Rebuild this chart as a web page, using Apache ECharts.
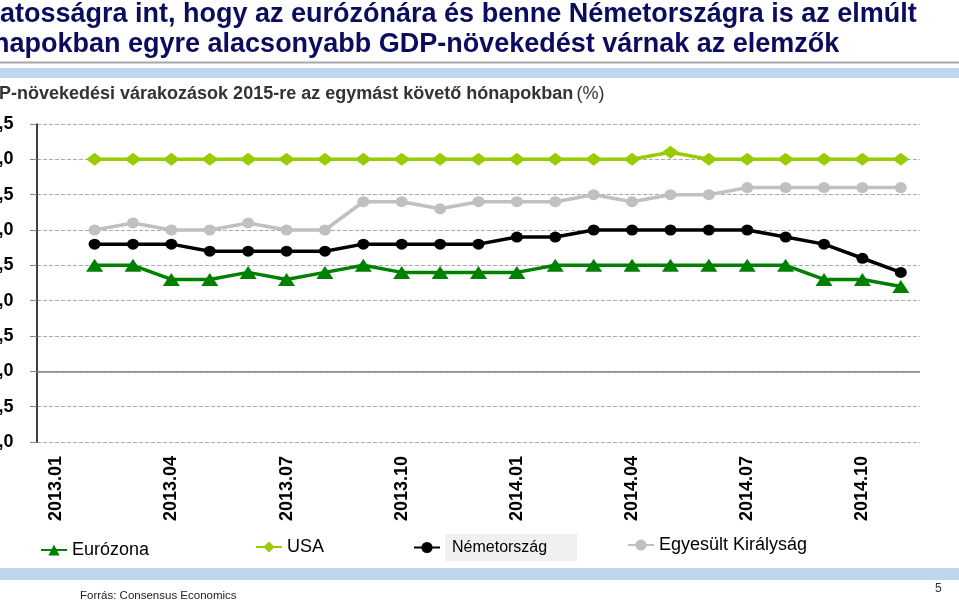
<!DOCTYPE html>
<html><head><meta charset="utf-8">
<script src="https://cdn.jsdelivr.net/npm/echarts@6/dist/echarts.min.js"></script>
<style>html,body{margin:0;padding:0;overflow:hidden;background:#fff;width:959px;height:602px;position:relative}
#c{position:absolute;left:-40px;top:0;width:999px;height:602px}</style>
</head><body><div id="c"></div>
<script>
const months = ['2013.01','2013.02','2013.03','2013.04','2013.05','2013.06','2013.07','2013.08','2013.09','2013.10','2013.11','2013.12',
  '2014.01','2014.02','2014.03','2014.04','2014.05','2014.06','2014.07','2014.08','2014.09','2014.10','2014.11'];
const eurozone = [null,1.5,1.5,1.3,1.3,1.4,1.3,1.4,1.5,1.4,1.4,1.4,1.4,1.5,1.5,1.5,1.5,1.5,1.5,1.5,1.3,1.3,1.2];
const usa      = [null,3.0,3.0,3.0,3.0,3.0,3.0,3.0,3.0,3.0,3.0,3.0,3.0,3.0,3.0,3.0,3.1,3.0,3.0,3.0,3.0,3.0,3.0];
const germany  = [null,1.8,1.8,1.8,1.7,1.7,1.7,1.7,1.8,1.8,1.8,1.8,1.9,1.9,2.0,2.0,2.0,2.0,2.0,1.9,1.8,1.6,1.4];
const uk       = [null,2.0,2.1,2.0,2.0,2.1,2.0,2.0,2.4,2.4,2.3,2.4,2.4,2.4,2.5,2.4,2.5,2.5,2.6,2.6,2.6,2.6,2.6];
const seriesNames = ['Eurózona','USA','Németország','Egyesült Királyság'];
const yMin = -1, yMax = 3.5, yStep = 0.5;

const FF = '"Liberation Sans", Arial, sans-serif';
const chart = echarts.init(document.getElementById('c'));
const legendBase = {padding:0, itemWidth:26, itemHeight:14, textStyle:{fontFamily:FF, fontSize:18, color:'#000'}, selectedMode:false};
chart.setOption({
  animation:false,
  backgroundColor:'#fff',
  grid:{left:77, right:39, top:124, bottom:160, containLabel:false},
  xAxis:{type:'category', data:months, boundaryGap:true,
    axisLine:{show:false}, axisTick:{show:false}, splitLine:{show:false},
    axisLabel:{rotate:90, interval:2, fontFamily:FF, fontWeight:'bold', fontSize:18, color:'#000', margin:14}},
  yAxis:{type:'value', min:yMin, max:yMax, interval:yStep,
    axisLine:{show:true, lineStyle:{color:'#000', width:1.5}},
    axisTick:{show:true, length:7, lineStyle:{color:'#888'}},
    splitLine:{show:true, lineStyle:{color:'#aaa', type:'dashed', width:1}},
    axisLabel:{formatter:v=>v.toFixed(1).replace('.',','), fontFamily:FF, fontWeight:'bold', fontSize:18, color:'#000', margin:23.5}},
  legend:[
    Object.assign({}, legendBase, {data:[seriesNames[0]], left:80, top:541}),
    Object.assign({}, legendBase, {data:[seriesNames[1]], left:295, top:538}),
    Object.assign({}, legendBase, {data:[seriesNames[2]], left:453, top:534,
      textStyle:{fontFamily:FF, fontSize:16, color:'#000', backgroundColor:'#f0f0f0', padding:[5,30,6,7]}}),
    Object.assign({}, legendBase, {data:[seriesNames[3]], left:667, top:536})
  ],
  series:[
    {name:seriesNames[0], type:'line', data:eurozone, symbol:'triangle', symbolSize:[17,13],
      itemStyle:{color:'#008000'}, lineStyle:{color:'#008000', width:3.5}, z:5,
      markLine:{silent:true, symbol:'none', label:{show:false}, data:[{yAxis:0}],
        lineStyle:{color:'#808080', type:'solid', width:1.5}}},
    {name:seriesNames[1], type:'line', data:usa, symbol:'diamond', symbolSize:[17,13],
      itemStyle:{color:'#99cc00'}, lineStyle:{color:'#99cc00', width:3.5}},
    {name:seriesNames[2], type:'line', data:germany, symbol:'circle', symbolSize:[12,11],
      itemStyle:{color:'#000'}, lineStyle:{color:'#000', width:3.5}},
    {name:seriesNames[3], type:'line', data:uk, symbol:'circle', symbolSize:[12,11],
      itemStyle:{color:'#c0c0c0'}, lineStyle:{color:'#c0c0c0', width:3.5}}
  ],
  graphic:[
    {type:'text', x:40, y:15, style:{text:'atosságra int, hogy az eurózónára és benne Németországra is az elmúlt', font:'bold 27px '+FF, fill:'#0c0c5e', verticalAlign:'middle', textVerticalAlign:'middle'}},
    {type:'text', x:33, y:45, style:{text:'napokban egyre alacsonyabb GDP-növekedést várnak az elemzők', font:'bold 27px '+FF, fill:'#0c0c5e', verticalAlign:'middle', textVerticalAlign:'middle'}},
    {type:'rect', shape:{x:0, y:61.5, width:999, height:2}, style:{fill:'#a8a8a8'}},
    {type:'rect', shape:{x:0, y:68, width:999, height:10}, style:{fill:'#bfd7ee'}},
    {type:'text', x:39, y:94, style:{text:'{b|P-növekedési várakozások 2015-re az egymást követő hónapokban} {n|(%)}',
      rich:{b:{font:'bold 18px '+FF, fill:'#333'}, n:{font:'18px '+FF, fill:'#333'}}, verticalAlign:'middle', textVerticalAlign:'middle'}},
    {type:'rect', shape:{x:0, y:568, width:999, height:12}, style:{fill:'#bfd7ee'}},
    {type:'text', x:120, y:596, style:{text:'Forrás: Consensus Economics', font:'11.5px '+FF, fill:'#222', verticalAlign:'middle', textVerticalAlign:'middle'}},
    {type:'text', x:975, y:589, style:{text:'5', font:'12px '+FF, fill:'#333', verticalAlign:'middle', textVerticalAlign:'middle'}}
  ]
});
</script></body></html>
